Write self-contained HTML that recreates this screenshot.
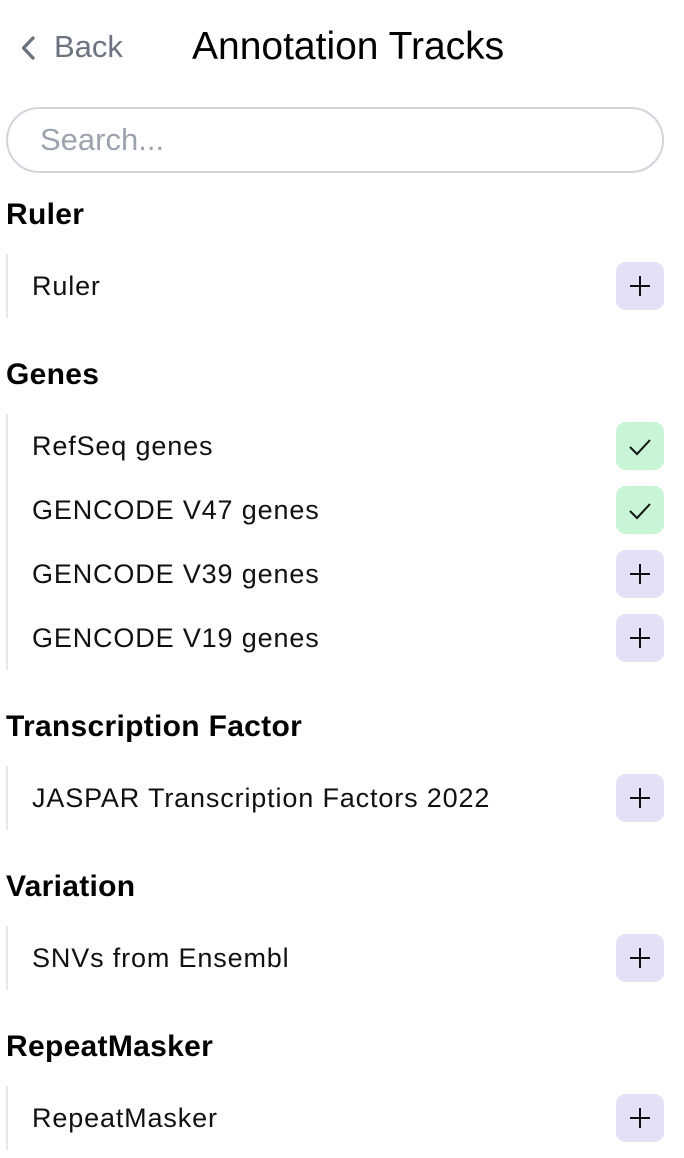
<!DOCTYPE html>
<html><head><meta charset="utf-8"><style>
*{box-sizing:border-box;margin:0;padding:0}
body{width:684px;height:1158px;background:#fff;font-family:"Liberation Sans",Arial,sans-serif;color:#111;position:relative;overflow:hidden}
.back{position:absolute;left:18px;top:28px;font-size:31px;color:#6b7280;line-height:38px}
.back svg{position:absolute;left:2px;top:7px}
.back span{position:absolute;left:36px;top:0}
.title{position:absolute;left:192px;top:24px;font-size:39px;line-height:46px;color:#000}
.search{position:absolute;left:6px;top:107px;width:658px;height:66px;border:2px solid #d1d5db;border-radius:33px;font-size:31px;color:#9ca3af;padding-left:32px;line-height:62px}
.h{position:absolute;left:6px;font-size:30px;font-weight:bold;line-height:40px;color:#000;letter-spacing:0.3px}
.g{position:absolute;left:6px;width:658px;border-left:2px solid #e5e7eb}
.r{height:64px;position:relative;font-size:27px;line-height:64px;padding-left:24px;letter-spacing:0.85px}
.b{position:absolute;right:0;top:8px;width:48px;height:48px;border-radius:10px;background:#e6e0f6}
.b.c{background:#c8f5d6}
.b svg{position:absolute;left:0;top:0}
</style></head><body>
<div class="back"><svg width="18" height="26" viewBox="0 0 18 26"><path d="M13 3 L3.5 13 L13 23" fill="none" stroke="#6b7280" stroke-width="3.4" stroke-linecap="round" stroke-linejoin="round"/></svg><span>Back</span></div>
<div class="title">Annotation Tracks</div>
<div class="search">Search...</div>

<div class="h" style="top:195px">Ruler</div>
<div class="g" style="top:254px">
<div class="r">Ruler<div class="b"><svg width="48" height="48"><path d="M24 14V34M14 24H34" stroke="#111" stroke-width="2"/></svg></div></div>
</div>

<div class="h" style="top:355px">Genes</div>
<div class="g" style="top:414px">
<div class="r">RefSeq genes<div class="b c"><svg width="48" height="48"><path d="M14 25L21 32L34 18" fill="none" stroke="#111" stroke-width="2"/></svg></div></div>
<div class="r">GENCODE V47 genes<div class="b c"><svg width="48" height="48"><path d="M14 25L21 32L34 18" fill="none" stroke="#111" stroke-width="2"/></svg></div></div>
<div class="r">GENCODE V39 genes<div class="b"><svg width="48" height="48"><path d="M24 14V34M14 24H34" stroke="#111" stroke-width="2"/></svg></div></div>
<div class="r">GENCODE V19 genes<div class="b"><svg width="48" height="48"><path d="M24 14V34M14 24H34" stroke="#111" stroke-width="2"/></svg></div></div>
</div>

<div class="h" style="top:707px">Transcription Factor</div>
<div class="g" style="top:766px">
<div class="r">JASPAR Transcription Factors 2022<div class="b"><svg width="48" height="48"><path d="M24 14V34M14 24H34" stroke="#111" stroke-width="2"/></svg></div></div>
</div>

<div class="h" style="top:867px">Variation</div>
<div class="g" style="top:926px">
<div class="r">SNVs from Ensembl<div class="b"><svg width="48" height="48"><path d="M24 14V34M14 24H34" stroke="#111" stroke-width="2"/></svg></div></div>
</div>

<div class="h" style="top:1027px">RepeatMasker</div>
<div class="g" style="top:1086px">
<div class="r">RepeatMasker<div class="b"><svg width="48" height="48"><path d="M24 14V34M14 24H34" stroke="#111" stroke-width="2"/></svg></div></div>
</div>
</body></html>
